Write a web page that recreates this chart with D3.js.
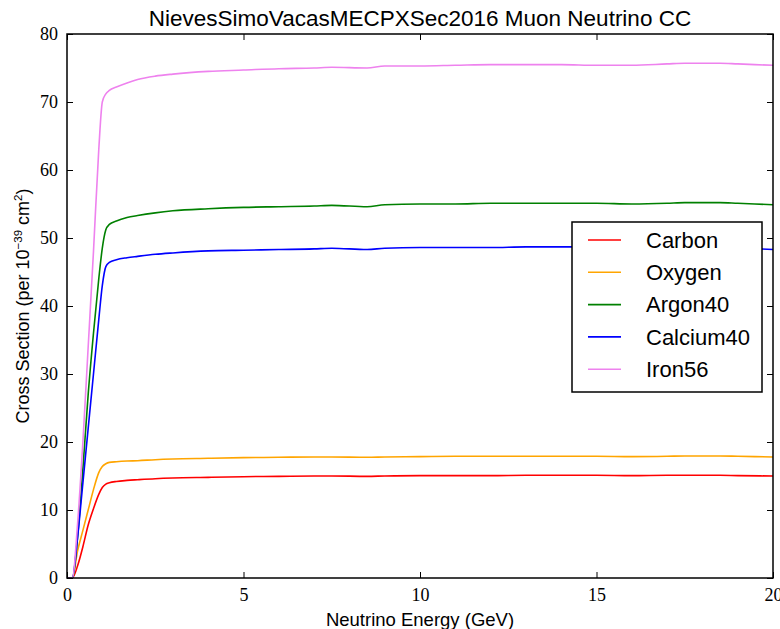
<!DOCTYPE html>
<html><head><meta charset="utf-8">
<script src="https://cdn.jsdelivr.net/npm/d3@7"></script>
<style>body{margin:0;background:#fff}svg{display:block}</style>
</head><body>
<svg id="chart" width="780" height="629"></svg>
<script>
const energy  = [0, 0.15, 0.3, 0.45, 0.6, 0.75, 0.9, 1.0, 1.1, 1.2, 1.4, 1.7, 2, 2.5, 3, 4, 5, 6, 7, 7.5, 8.5, 9, 10, 11, 12, 13, 14, 15, 16, 17, 17.5, 18.5, 19, 20];
const carbon  = [0, 0, 1.8, 4.6, 7.8, 10.2, 12.3, 13.3, 13.8, 14.0, 14.2, 14.35, 14.45, 14.6, 14.7, 14.8, 14.9, 14.95, 15.0, 15.0, 14.95, 15.0, 15.05, 15.05, 15.05, 15.1, 15.1, 15.1, 15.05, 15.1, 15.1, 15.1, 15.05, 15.0];
const oxygen  = [0, 0, 4.0, 7.0, 10.0, 13.0, 15.5, 16.4, 16.8, 17.0, 17.1, 17.2, 17.25, 17.4, 17.5, 17.6, 17.7, 17.75, 17.8, 17.8, 17.75, 17.8, 17.85, 17.9, 17.9, 17.9, 17.9, 17.9, 17.85, 17.9, 17.95, 17.95, 17.9, 17.8];
const argon40 = [0, 0, 6, 16, 27, 36, 44, 48.5, 51.2, 52.0, 52.5, 53.0, 53.3, 53.7, 54.0, 54.3, 54.5, 54.6, 54.7, 54.8, 54.6, 54.9, 55.0, 55.0, 55.1, 55.1, 55.1, 55.1, 55.0, 55.1, 55.2, 55.2, 55.1, 54.9];
const calcium40 = [0, 0, 6, 14, 22, 30, 38, 43, 45.8, 46.4, 46.8, 47.1, 47.3, 47.6, 47.8, 48.1, 48.2, 48.3, 48.4, 48.5, 48.3, 48.5, 48.6, 48.6, 48.6, 48.7, 48.7, 48.7, 48.6, 48.7, 48.8, 48.8, 48.6, 48.3];
const iron56  = [0, 0, 8, 20, 34, 48, 63, 70, 71.2, 71.7, 72.2, 72.8, 73.3, 73.8, 74.1, 74.5, 74.7, 74.9, 75.0, 75.1, 75.0, 75.3, 75.3, 75.4, 75.5, 75.5, 75.5, 75.4, 75.4, 75.6, 75.7, 75.7, 75.6, 75.4];
const seriesNames = ["Carbon", "Oxygen", "Argon40", "Calcium40", "Iron56"];
const seriesValues = [carbon, oxygen, argon40, calcium40, iron56];
const seriesColors = ["#ff0000", "#ffa500", "#008000", "#0000ff", "#ee82ee"];
const xTicks = [0, 5, 10, 15, 20];
const yTicks = [0, 10, 20, 30, 40, 50, 60, 70, 80];
const titleText = "NievesSimoVacasMECPXSec2016 Muon Neutrino CC";
const xLabel = "Neutrino Energy (GeV)";

const svg = d3.select("#chart");
const L = 67, R = 773, T = 34, B = 578;
const x = d3.scaleLinear().domain([0, 20]).range([L, R]);
const y = d3.scaleLinear().domain([0, 80]).range([B, T]);

const line = d3.line().x(d => x(d[0])).y(d => y(d[1])).curve(d3.curveMonotoneX);
seriesValues.forEach((vals, i) => {
  svg.append("path")
    .datum(energy.map((e, j) => [e, vals[j]]))
    .attr("d", line).attr("fill", "none")
    .attr("stroke", seriesColors[i]).attr("stroke-width", 1.6);
});

const tickFont = "'Liberation Serif', serif";
const ax = svg.append("g").attr("transform", `translate(0,${B})`)
  .call(d3.axisBottom(x).tickValues(xTicks).tickSizeInner(-6).tickSizeOuter(0).tickPadding(10).tickFormat(d3.format("d")));
const axT = svg.append("g").attr("transform", `translate(0,${T})`)
  .call(d3.axisTop(x).tickValues(xTicks).tickSizeInner(-6).tickSizeOuter(0).tickFormat(""));
const ay = svg.append("g").attr("transform", `translate(${L},0)`)
  .call(d3.axisLeft(y).tickValues(yTicks).tickSizeInner(-6).tickSizeOuter(0).tickPadding(9).tickFormat(d3.format("d")));
const ayR = svg.append("g").attr("transform", `translate(${R},0)`)
  .call(d3.axisRight(y).tickValues(yTicks).tickSizeInner(-6).tickSizeOuter(0).tickFormat(""));
[ax, axT, ay, ayR].forEach(g => {
  g.select(".domain").remove();
  g.selectAll("line").attr("stroke", "#000").attr("stroke-width", 1);
  g.selectAll("text").attr("font-family", tickFont).attr("font-size", 18).attr("fill", "#000");
});
ax.selectAll("text").attr("dy", "0.71em");

svg.append("rect").attr("x", L).attr("y", T).attr("width", R - L).attr("height", B - T)
  .attr("fill", "none").attr("stroke", "#000").attr("stroke-width", 1.5);

const sans = "'Liberation Sans', Arial, sans-serif";
svg.append("text").attr("x", (L + R) / 2).attr("y", 26).attr("text-anchor", "middle")
  .attr("font-family", sans).attr("font-size", 22.5).text(titleText);
svg.append("text").attr("x", (L + R) / 2).attr("y", 626).attr("text-anchor", "middle")
  .attr("font-family", sans).attr("font-size", 18.5).text(xLabel);

const yl = svg.append("text").attr("transform", `translate(29,${(T + B) / 2}) rotate(-90)`)
  .attr("text-anchor", "middle").attr("font-family", sans).attr("font-size", 18);
yl.append("tspan").text("Cross Section (per 10");
yl.append("tspan").attr("dy", -7).attr("font-size", 11.5).text("\u221239");
yl.append("tspan").attr("dy", 7).text(" cm");
yl.append("tspan").attr("dy", -7).attr("font-size", 11.5).text("2");
yl.append("tspan").attr("dy", 7).text(")");

const lg = svg.append("g");
lg.append("rect").attr("x", 572).attr("y", 222).attr("width", 190).attr("height", 170)
  .attr("fill", "#fff").attr("stroke", "#000").attr("stroke-width", 1.5);
seriesNames.forEach((n, i) => {
  const cy = 240 + i * 32.3;
  lg.append("line").attr("x1", 588).attr("x2", 621).attr("y1", cy).attr("y2", cy)
    .attr("stroke", seriesColors[i]).attr("stroke-width", 1.6);
  lg.append("text").attr("x", 646).attr("y", cy).attr("dy", "0.35em")
    .attr("font-family", sans).attr("font-size", 22).text(n);
});
</script>
</body></html>
